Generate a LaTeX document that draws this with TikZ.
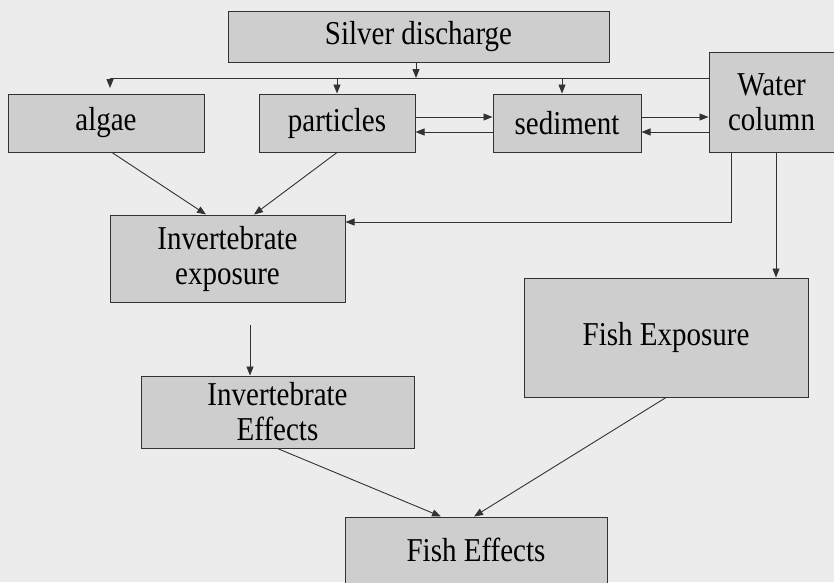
\documentclass[tikz,border=0pt]{standalone}
\usepackage{fontspec}
\usepackage{graphicx}
\setmainfont{Liberation Serif}
\usetikzlibrary{arrows.meta}
\definecolor{paper}{RGB}{236,236,236}
\definecolor{boxgray}{RGB}{206,206,206}
\definecolor{ink}{RGB}{50,50,50}
\newcommand{\tall}[1]{\raisebox{-3pt}{\scalebox{1}[1.15]{#1}}}
\begin{document}
\begin{tikzpicture}[x=1pt,y=-1pt,
  box/.style={draw=ink, fill=boxgray, line width=1pt, inner sep=0pt, align=center,
    font=\fontsize{29}{35}\selectfont},
  link/.style={draw=ink, line width=0.9pt, -{Triangle[length=9pt,width=7pt]}}]

\clip (0,0) rectangle (834,582);
\fill[paper] (0,0) rectangle (834,582);

\node[box, minimum width=381pt, minimum height=51pt] (silver) at (418.5,36.5) {\tall{Silver discharge}};

\node[box, minimum width=196pt, minimum height=58pt] (algae) at (106,123) {\tall{algae}};
\node[box, minimum width=156pt, minimum height=58pt] (particles) at (337,123) {\tall{particles}};
\node[box, minimum width=148pt, minimum height=58pt] (sediment) at (567,123) {\tall{sediment}};
\node[box, minimum width=125pt, minimum height=100pt] (water) at (771.5,102) {\tall{Water}\\\tall{column}};

\node[box, minimum width=235pt, minimum height=87pt] (invexp) at (227.5,258.5) {\tall{Invertebrate}\\\tall{exposure}};
\node[box, minimum width=284pt, minimum height=119pt] (fishexp) at (666,337.5) {\tall{Fish Exposure}};
\node[box, minimum width=273pt, minimum height=72pt] (inveff) at (277.5,412) {\tall{Invertebrate}\\\tall{Effects}};
\node[box, minimum width=262pt, minimum height=80pt] (fisheff) at (476,557) {};
\node[font=\fontsize{29}{35}\selectfont] (fisheffText) at (476,550) {\tall{Fish Effects}};

% silver goes out along one line
\coordinate (split) at (416,78);
\coordinate (leftend) at (110,78);
\coordinate (invstart) at (250,325);

\draw[link] (silver.south -| split) -- (split);
\draw[link] (water.west |- split) -- (leftend) -- ++(0,10);
\draw[link] (particles.north |- split) -- (particles.north);
\draw[link] (562,78) -- (sediment.north -| 562,0);

\draw[link] (particles.east |- 0,117) -- (sediment.west |- 0,117);
\draw[link] (sediment.west |- 0,132) -- (particles.east |- 0,132);
\draw[link] (sediment.east |- 0,117) -- (water.west |- 0,117);
\draw[link] (water.west |- 0,132) -- (sediment.east |- 0,132);

\draw[link] (algae.south -| 112,0) -- (invexp.north -| 206,0);
\draw[link] (particles.south) -- (invexp.north -| 254,0);
\draw[link] (water.south -| 731,0) |- (invexp.east |- 0,222);
\draw[link] (water.south -| 776,0) -- (fishexp.north -| 776,0);

\draw[link] (invstart) -- (inveff.north -| invstart);
\draw[link] (inveff.south) -- (fisheff.north -| 441,0);
\draw[link] (fishexp.south) -- (fisheff.north -| 474,0);
\end{tikzpicture}
\end{document}
